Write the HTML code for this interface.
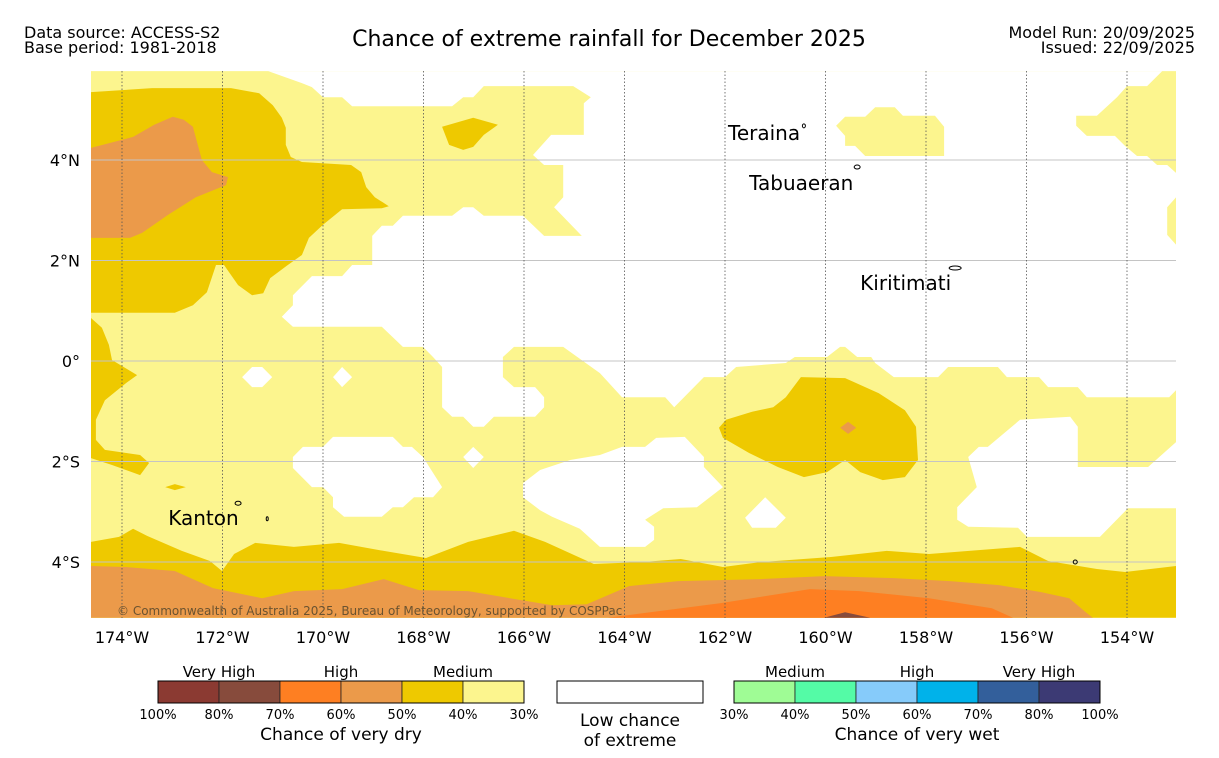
<!DOCTYPE html>
<html><head><meta charset="utf-8"><title>Chance of extreme rainfall for December 2025</title>
<style>
html,body{margin:0;padding:0;background:#fff;}
svg{display:block;font-family:"DejaVu Sans","Liberation Sans",sans-serif;}
</style></head>
<body>
<svg id="chart" width="1219" height="758" viewBox="0 0 1219 758" xmlns="http://www.w3.org/2000/svg">
  <defs><clipPath id="mapclip"><rect x="91" y="71" width="1085" height="547"/></clipPath></defs>
  <g font-size="16" fill="#000">
    <text x="24" y="38">Data source: ACCESS-S2</text>
    <text x="24" y="53">Base period: 1981-2018</text>
    <text x="609" y="46" font-size="22" text-anchor="middle">Chance of extreme rainfall for December 2025</text>
    <text x="1195" y="38" text-anchor="end">Model Run: 20/09/2025</text>
    <text x="1195" y="53" text-anchor="end">Issued: 22/09/2025</text>
  </g>
  <g id="map" clip-path="url(#mapclip)"></g>
  <g id="grid"></g>
  <g id="overlay"></g>
  <g id="axes" font-size="16" fill="#000"></g>
  <g id="legend" font-size="14" fill="#000"></g>
</svg>
<script>
// Longitude ticks (degrees West) and latitude ticks (degrees, +N / -S)
const lonTicks = [174,172,170,168,166,164,162,160,158,156,154];
const latTicks = [4,2,0,-2,-4];
const latTickLabels = ["4°N","2°N","0°","2°S","4°S"];

// Region polygons as [lonW, lat] pairs
const lightYellowBase = [[174.62,5.77],[153.02,5.77],[153.02,-5.11],[174.62,-5.11]];
const whiteTop = [[171.09,5.77],[170.42,5.53],[170.22,5.45],[170.00,5.25],[169.62,5.25],[169.42,5.07],[167.43,5.07],[167.21,5.25],[167.01,5.25],[166.80,5.47],[165.02,5.47],[164.67,5.25],[164.81,5.13],[164.81,4.50],[165.46,4.50],[165.82,4.10],[165.60,3.90],[165.22,3.90],[165.22,3.26],[165.40,3.06],[164.85,2.49],[165.60,2.49],[166.02,2.89],[166.80,2.89],[167.01,3.06],[167.21,3.06],[167.43,2.89],[168.41,2.89],[168.61,2.69],[168.83,2.69],[169.02,2.49],[169.02,1.91],[169.42,1.91],[169.62,1.69],[170.22,1.69],[170.60,1.31],[170.60,1.11],[170.82,0.88],[170.60,0.68],[168.83,0.68],[168.41,0.28],[168.01,0.28],[167.81,0.08],[167.63,-0.12],[167.63,-0.92],[167.43,-1.11],[167.21,-1.11],[167.01,-1.31],[166.80,-1.31],[166.60,-1.11],[165.78,-1.11],[165.60,-0.92],[165.60,-0.72],[165.78,-0.52],[166.20,-0.52],[166.42,-0.32],[166.42,0.08],[166.20,0.28],[165.22,0.28],[164.49,-0.24],[164.05,-0.72],[163.19,-0.72],[163.01,-0.92],[162.42,-0.32],[162.00,-0.32],[161.78,-0.12],[160.79,-0.04],[160.61,0.08],[159.97,0.08],[159.71,0.28],[159.61,0.28],[159.37,0.08],[159.09,0.08],[159.01,-0.04],[158.64,-0.32],[157.76,-0.32],[157.56,-0.12],[156.57,-0.12],[156.39,-0.32],[155.75,-0.32],[155.57,-0.52],[154.98,-0.52],[154.80,-0.72],[153.16,-0.72],[153.02,-0.58],[153.02,2.31],[153.20,2.51],[153.20,3.06],[153.02,3.26],[153.02,3.74],[153.20,3.90],[153.40,3.90],[153.60,4.08],[153.80,4.08],[154.04,4.28],[154.24,4.48],[154.80,4.48],[155.01,4.68],[155.01,4.88],[154.60,4.88],[154.20,5.25],[154.00,5.47],[153.60,5.47],[153.30,5.77]];
const yellowIsland = [[159.79,4.68],[159.61,4.86],[159.21,4.86],[159.01,5.05],[158.62,5.05],[158.46,4.88],[157.82,4.88],[157.64,4.66],[157.64,4.08],[159.21,4.08],[159.41,4.28],[159.61,4.28],[159.61,4.48]];
const whiteHole1 = [[171.61,-0.32],[171.41,-0.12],[171.21,-0.12],[171.01,-0.32],[171.21,-0.52],[171.41,-0.52]];
const whiteHole2 = [[169.80,-0.32],[169.62,-0.12],[169.42,-0.32],[169.62,-0.52]];
const whiteHole3 = [[167.21,-1.91],[167.01,-1.71],[166.80,-1.91],[167.01,-2.13]];
const whiteHole4 = [[161.60,-3.12],[161.20,-2.71],[160.79,-3.12],[160.99,-3.32],[161.46,-3.32]];
const whiteB = [[170.60,-1.91],[170.40,-1.71],[170.00,-1.71],[169.80,-1.51],[168.61,-1.51],[168.41,-1.71],[168.23,-1.71],[168.01,-1.91],[167.63,-2.51],[167.81,-2.71],[168.19,-2.71],[168.41,-2.91],[168.61,-2.91],[168.83,-3.10],[169.58,-3.10],[169.80,-2.91],[169.80,-2.71],[170.00,-2.51],[170.22,-2.51],[170.60,-2.13]];
const whiteC = [[166.02,-2.43],[165.68,-2.17],[165.08,-1.97],[164.49,-1.87],[164.05,-1.71],[163.59,-1.71],[163.37,-1.53],[162.80,-1.51],[162.42,-1.91],[162.42,-2.11],[162.04,-2.51],[162.56,-2.91],[163.23,-2.93],[163.59,-3.16],[163.41,-3.30],[163.41,-3.56],[163.59,-3.70],[164.49,-3.70],[164.89,-3.34],[165.44,-3.10],[165.68,-2.97],[166.02,-2.71]];
const whiteD = [[157.16,-1.91],[156.95,-1.71],[156.77,-1.71],[156.13,-1.17],[155.13,-1.11],[154.98,-1.31],[154.98,-2.11],[153.58,-2.11],[153.02,-1.61],[153.02,-2.93],[153.98,-2.93],[154.54,-3.50],[155.99,-3.50],[156.17,-3.32],[157.16,-3.30],[157.38,-3.16],[157.38,-2.91],[156.99,-2.51]];
const darkYellowNW = [[174.62,5.35],[173.40,5.43],[171.83,5.43],[171.27,5.33],[171.00,5.09],[170.82,4.84],[170.74,4.64],[170.74,4.30],[170.64,4.06],[170.42,3.96],[169.44,3.90],[169.24,3.76],[169.14,3.46],[168.97,3.26],[168.69,3.08],[168.83,3.04],[169.62,3.02],[170.00,2.71],[170.28,2.45],[170.42,2.11],[170.70,1.91],[171.05,1.65],[171.19,1.35],[171.41,1.31],[171.69,1.51],[171.97,1.91],[172.13,1.91],[172.31,1.37],[172.59,1.11],[172.95,0.96],[174.62,0.96]];
const orangeTanNW = [[174.62,4.24],[173.78,4.46],[173.36,4.70],[172.99,4.86],[172.77,4.80],[172.59,4.66],[172.53,4.44],[172.41,4.00],[172.21,3.76],[171.89,3.66],[171.93,3.50],[172.53,3.26],[173.08,2.91],[173.60,2.55],[173.84,2.45],[174.62,2.45]];
const darkYellowBlobN = [[167.63,4.66],[167.01,4.84],[166.52,4.70],[166.80,4.50],[167.01,4.26],[167.21,4.20],[167.49,4.30]];
const darkYellowWest = [[174.62,0.86],[174.40,0.66],[174.26,0.32],[174.20,0.02],[173.70,-0.28],[173.92,-0.44],[174.34,-0.78],[174.52,-1.17],[174.52,-1.57],[174.34,-1.77],[173.64,-1.87],[173.46,-2.03],[173.64,-2.27],[174.20,-2.07],[174.62,-1.93]];
const darkYellowLens = [[173.14,-2.51],[172.95,-2.45],[172.73,-2.51],[172.95,-2.57]];
const darkYellowCentral = [[162.12,-1.33],[161.98,-1.17],[161.46,-1.01],[161.04,-0.92],[160.79,-0.72],[160.49,-0.32],[159.61,-0.34],[158.94,-0.64],[158.42,-0.98],[158.20,-1.31],[158.16,-1.97],[158.42,-2.31],[158.86,-2.37],[159.31,-2.21],[159.61,-1.97],[159.97,-2.21],[160.43,-2.31],[160.95,-2.11],[161.52,-1.83],[162.04,-1.53]];
const orangeTanDiamond = [[159.71,-1.33],[159.55,-1.21],[159.39,-1.33],[159.55,-1.45]];
const darkYellowSouth = [[174.62,-3.60],[174.06,-3.50],[173.78,-3.34],[173.50,-3.48],[172.81,-3.78],[172.25,-3.98],[172.01,-4.18],[171.77,-3.84],[171.35,-3.62],[170.58,-3.70],[169.68,-3.62],[168.79,-3.78],[167.95,-3.92],[167.11,-3.60],[166.20,-3.38],[165.58,-3.60],[164.61,-4.04],[163.63,-4.00],[162.88,-3.94],[162.04,-4.10],[161.28,-4.00],[159.89,-3.90],[158.78,-3.78],[157.94,-3.84],[156.13,-3.70],[155.57,-3.98],[154.60,-4.14],[154.04,-4.20],[153.02,-4.08],[153.02,-5.11],[174.62,-5.11]];
const orangeTanSouth = [[174.62,-4.08],[173.92,-4.10],[172.95,-4.18],[172.19,-4.52],[171.21,-4.72],[170.58,-4.58],[169.62,-4.54],[168.79,-4.34],[168.09,-4.56],[167.11,-4.58],[166.28,-4.72],[165.44,-4.86],[164.75,-4.84],[163.91,-4.48],[162.94,-4.38],[161.28,-4.34],[160.03,-4.28],[158.64,-4.32],[157.52,-4.38],[156.55,-4.46],[155.71,-4.60],[155.15,-4.72],[154.82,-5.00],[154.68,-5.11],[174.62,-5.11]];
const orangeSouth = [[164.33,-5.11],[163.49,-5.00],[162.10,-4.82],[160.31,-4.54],[159.33,-4.58],[157.94,-4.72],[156.69,-4.92],[156.27,-5.11]];
const brownSouth = [[160.03,-5.11],[159.61,-5.00],[159.11,-5.11]];

// Place names [name, lonW, lat] (label anchor = text start / baseline)
const placeNames = ["Teraina","Tabuaeran","Kiritimati","Kanton"];
const placeLon = [161.94, 161.52, 159.31, 173.08];
const placeLat = [4.40, 3.40, 1.41, -3.26];

// Islands
const islandLon = [160.43, 159.37, 157.42, 171.69, 171.11, 155.03];
const islandLat = [4.68, 3.86, 1.85, -2.83, -3.14, -4.0];
const islandRx = [1.5, 3, 6, 3, 1, 2];

// Legend categories
const dryLabels = ["100%","80%","70%","60%","50%","40%","30%"];
const dryColors = ["#8b3a32","#874b3c","#fe7f22","#eb9a4a","#eec900","#fcf58e"];
const wetLabels = ["30%","40%","50%","60%","70%","80%","100%"];
const wetColors = ["#9ffc95","#54fba6","#86cbfa","#00b2ea","#335f9b","#3c3a74"];

const NS = "http://www.w3.org/2000/svg";
function xOf(lonW){ return 122 + (174 - lonW) * 50.25; }
function yOf(lat){ return 361 - lat * 50.25; }
function mk(tag, attrs, parent){
  const e = document.createElementNS(NS, tag);
  for (const k in attrs) e.setAttribute(k, attrs[k]);
  parent.appendChild(e);
  return e;
}
const map = document.getElementById('map');
function region(pts, color, name){
  const p = mk('polygon', {points: pts.map(q => xOf(q[0]).toFixed(1)+','+yOf(q[1]).toFixed(1)).join(' '), fill: color}, map);
  
  
}
const LY = "#fcf58e", DY = "#eec900", OT = "#eb9a4a", OR = "#fe7f22", BR = "#874b3c";
region(lightYellowBase, LY, 'light-yellow-base');
region(whiteTop, "#ffffff", 'low-chance-north');
region(yellowIsland, LY, 'medium-patch-north');
region(whiteHole1, "#ffffff", 'low-chance-hole');
region(whiteHole2, "#ffffff", 'low-chance-hole');
region(whiteHole3, "#ffffff", 'low-chance-hole');
region(whiteHole4, "#ffffff", 'low-chance-hole');
region(whiteB, "#ffffff", 'low-chance-west');
region(whiteC, "#ffffff", 'low-chance-central');
region(whiteD, "#ffffff", 'low-chance-east');
region(darkYellowNW, DY, 'dry-50-northwest');
region(orangeTanNW, OT, 'dry-60-northwest');
region(darkYellowBlobN, DY, 'dry-50-blob');
region(darkYellowWest, DY, 'dry-50-west');
region(darkYellowLens, DY, 'dry-50-lens');
region(darkYellowCentral, DY, 'dry-50-central');
region(orangeTanDiamond, OT, 'dry-60-diamond');
region(darkYellowSouth, DY, 'dry-50-south');
region(orangeTanSouth, OT, 'dry-60-south');
region(orangeSouth, OR, 'dry-70-south');
region(brownSouth, BR, 'dry-80-south');

// Grid
const grid = document.getElementById('grid');
latTicks.forEach(function(la){
  const l = mk('line', {x1:91, x2:1176, y1:yOf(la), y2:yOf(la), stroke:'#c4c4c4', 'stroke-width':1}, grid);
  
  
});
lonTicks.forEach(function(lo){
  const l = mk('line', {x1:xOf(lo), x2:xOf(lo), y1:71, y2:618, stroke:'#555', 'stroke-width':0.8, 'stroke-dasharray':'1.5,2'}, grid);
  
  
});

// Overlay: islands, place names, copyright
const ov = document.getElementById('overlay');
islandLon.forEach(function(lo, i){
  const e = mk('ellipse', {cx:xOf(lo), cy:yOf(islandLat[i]), rx:islandRx[i], ry:2, fill:'none', stroke:'#000', 'stroke-width':1}, ov);
  
  
});
placeNames.forEach(function(n, i){
  const t = mk('text', {x:xOf(placeLon[i]), y:yOf(placeLat[i]), 'font-size':20, fill:'#000'}, ov);
  t.textContent = n;
  
  
});
const cp = mk('text', {x:117, y:615, 'font-size':12, fill:'#6b5330'}, ov);
cp.textContent = "© Commonwealth of Australia 2025, Bureau of Meteorology, supported by COSPPac";



// Axes
const axes = document.getElementById('axes');
latTicks.forEach(function(la, i){
  const t = mk('text', {x:80, y:yOf(la)+6, 'text-anchor':'end'}, axes);
  t.textContent = latTickLabels[i];
  
  
});
lonTicks.forEach(function(lo){
  const t = mk('text', {x:xOf(lo), y:643, 'text-anchor':'middle'}, axes);
  t.textContent = lo + "°W";
  
  
});

// Legend
const lg = document.getElementById('legend');
function colorbar(x0, colors, labels, groups, title, nameBase){
  const w = 61;
  colors.forEach(function(c, i){
    const r = mk('rect', {x:x0+i*w, y:681, width:w, height:22, fill:c, stroke:'#222', 'stroke-width':0.8}, lg);
    
    
  });
  mk('rect', {x:x0, y:681, width:w*colors.length, height:22, fill:'none', stroke:'#000', 'stroke-width':1}, lg);
  labels.forEach(function(l, i){
    const t = mk('text', {x:x0+i*w, y:719, 'text-anchor':'middle', 'font-size':13}, lg);
    t.textContent = l;
    
    
  });
  groups.forEach(function(g, i){
    const t = mk('text', {x:x0+w+i*2*w, y:677, 'text-anchor':'middle', 'font-size':15}, lg);
    t.textContent = g;
    
    
  });
  const tt = mk('text', {x:x0+3*w, y:740, 'text-anchor':'middle', 'font-size':17}, lg);
  tt.textContent = title;
  
  
}
colorbar(158, dryColors, dryLabels, ["Very High","High","Medium"], "Chance of very dry", 'dry-legend');
colorbar(734, wetColors, wetLabels, ["Medium","High","Very High"], "Chance of very wet", 'wet-legend');
const lb = mk('rect', {x:557, y:681, width:146, height:22, fill:'#fff', stroke:'#000', 'stroke-width':1}, lg);


const l1 = mk('text', {x:630, y:726, 'text-anchor':'middle', 'font-size':17}, lg);
l1.textContent = "Low chance";


const l2 = mk('text', {x:630, y:746, 'text-anchor':'middle', 'font-size':17}, lg);
l2.textContent = "of extreme";


</script>
</body></html>
